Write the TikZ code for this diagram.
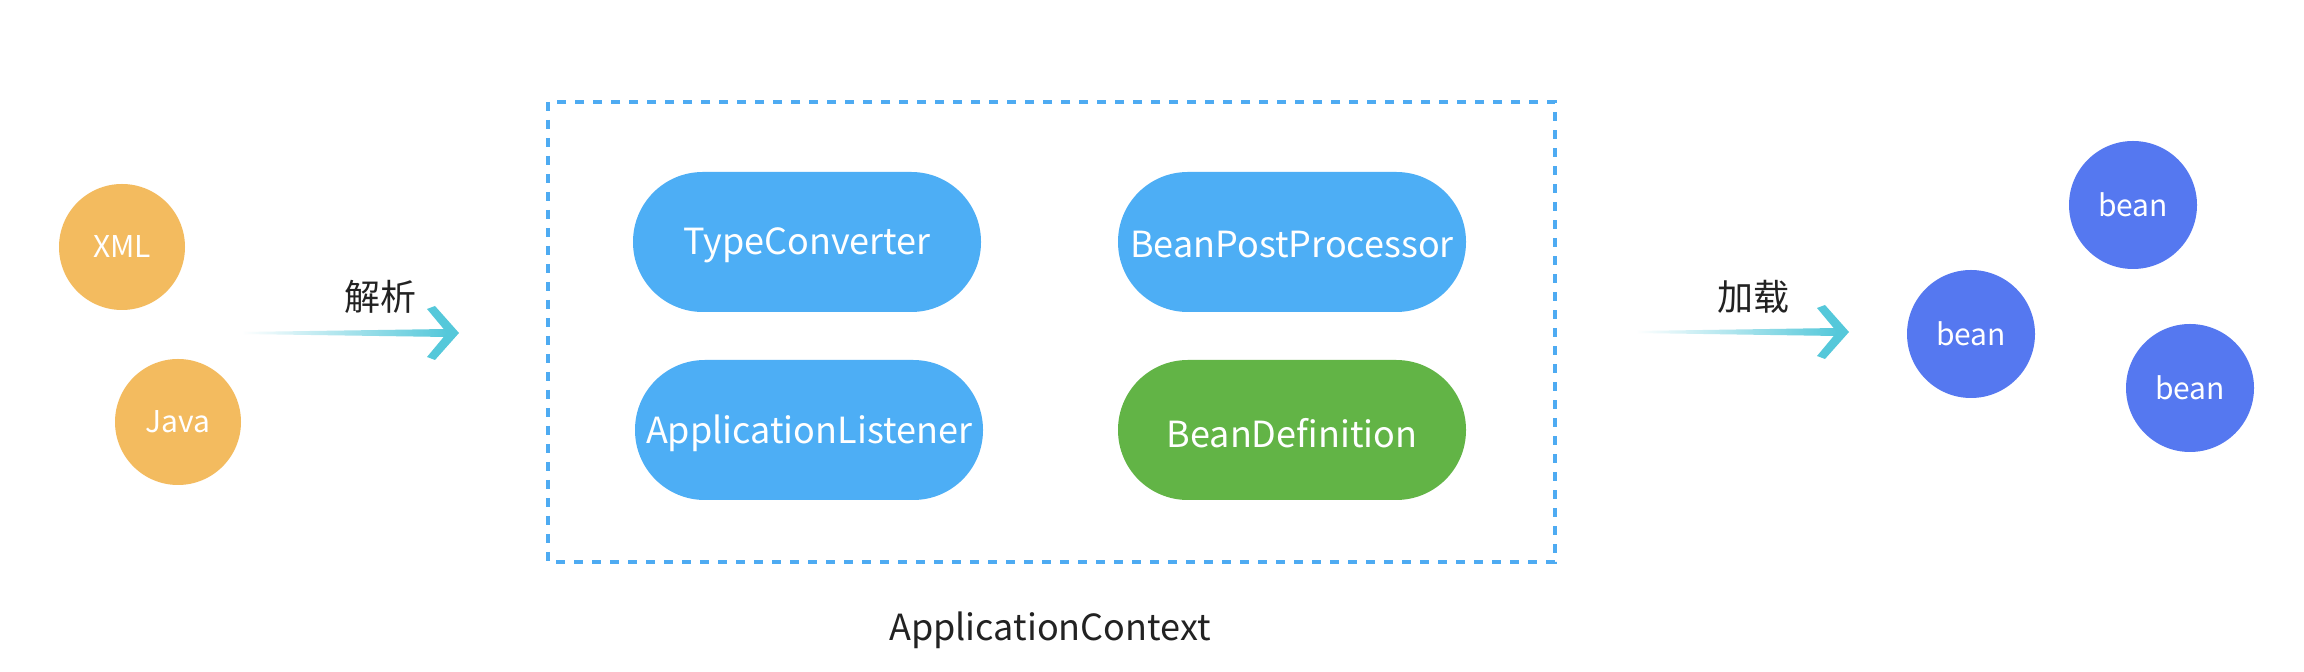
\documentclass[tikz,border=0pt]{standalone}
\usepackage{fontspec}
\setmainfont{Noto Sans CJK SC}
\usetikzlibrary{calc}
\definecolor{orangec}{HTML}{F3BB5F}
\definecolor{pillblue}{HTML}{4DAEF5}
\definecolor{pillgreen}{HTML}{62B446}
\definecolor{beanblue}{HTML}{5578F0}
\definecolor{arrowc}{HTML}{55C8DA}
\definecolor{dashc}{HTML}{4EABF2}
\definecolor{txt}{HTML}{222222}
\tikzset{
  src/.style={circle, fill=orangec, draw=none, minimum size=63pt, inner sep=0pt, text=white, font=\fontsize{15pt}{17pt}\selectfont},
  beanc/.style={circle, fill=beanblue, draw=none, minimum size=64pt, inner sep=0pt, text=white, font=\fontsize{15pt}{17pt}\selectfont},
  pill/.style={rectangle, rounded corners=34.9pt, fill=pillblue, draw=none, minimum width=174pt, minimum height=70pt, inner sep=0pt, text=white, font=\fontsize{18pt}{20pt}\selectfont},
  greenpill/.style={pill, fill=pillgreen},
  ptext/.style={text=white, inner sep=0pt, font=\fontsize{18pt}{20pt}\selectfont, yshift=-1.5pt},
  ctxbox/.style={draw=dashc, line width=2pt, dash pattern=on 4.5pt off 4.5pt},
  lbl/.style={text=txt, inner sep=0pt, font=\fontsize{18pt}{20pt}\selectfont},
  ctxlbl/.style={text=txt, inner sep=0pt, font=\fontsize{18pt}{20pt}\selectfont},
}
\begin{document}
\begin{tikzpicture}[x=0.5pt, y=-0.5pt]
\useasboundingbox (0,0) rectangle (2304,672);
\fill[white] (0,0) rectangle (2304,672);

% sources
\node[src] (xml) at (122,247) {XML};
\node[src] (java) at (178,422) {Java};

% context box
\coordinate (boxtl) at (548,102);
\coordinate (boxbr) at (1555,562);
\draw[ctxbox] (boxtl) rectangle (boxbr);
\node[pill] (tc) at (807,242) {};
\node[ptext] at (tc) {TypeConverter};
\node[pill] (bpp) at (1292,242) {};
\node[ptext] at (bpp) {BeanPostProcessor};
\node[pill] (al) at (809,430) {};
\node[ptext] at (al) {ApplicationListener};
\node[greenpill] (bd) at (1292,430) {};
\node[ptext] at (bd) {BeanDefinition};
\node[ctxlbl] (ctx) at (1050,630) {ApplicationContext};

% beans
\node[beanc] (b1) at (2133,205) {bean};
\node[beanc] (b2) at (1971,334) {bean};
\node[beanc] (b3) at (2190,388) {bean};

% arrow 1
\coordinate (p1s) at (242,333);
\coordinate (p1e) at (459,333);
\shade[left color=white, right color=arrowc]
  ($(p1s)+(0,-1)$) -- ($(p1e)+(-12,-4)$) -- ($(p1e)+(-12,4)$) -- ($(p1s)+(0,1)$) -- cycle;
\fill[arrowc] (p1e) -- ++(-24,-27) -- ++(-8,3) -- ++(20,24) -- ++(-20,24) -- ++(8,3) -- cycle;
\node[lbl] (jx) at (380,297) {解析};

% arrow 2
\coordinate (p2s) at (1636,332);
\coordinate (p2e) at (1849,332);
\shade[left color=white, right color=arrowc]
  ($(p2s)+(0,-1)$) -- ($(p2e)+(-12,-4)$) -- ($(p2e)+(-12,4)$) -- ($(p2s)+(0,1)$) -- cycle;
\fill[arrowc] (p2e) -- ++(-24,-27) -- ++(-8,3) -- ++(20,24) -- ++(-20,24) -- ++(8,3) -- cycle;
\node[lbl] (jz) at (1753,297) {加载};
\end{tikzpicture}
\end{document}
